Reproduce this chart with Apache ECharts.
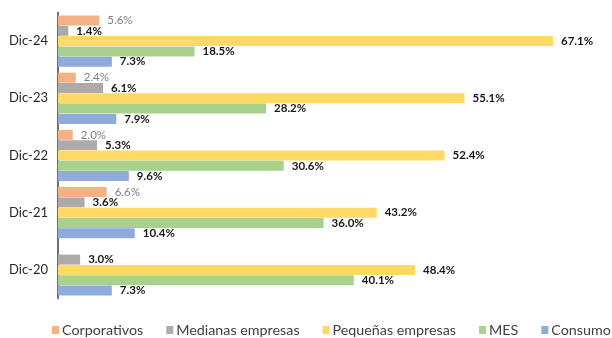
<!DOCTYPE html>
<html>
<head>
<meta charset="utf-8">
<script src="https://cdn.jsdelivr.net/npm/echarts@6/dist/echarts.min.js"></script>
<style>
  html, body { margin: 0; padding: 0; background: #fff; }
  #main { width: 612px; height: 338px; }
</style>
</head>
<body>
<div id="main"></div>
<script>
var categories = ['Dic-20', 'Dic-21', 'Dic-22', 'Dic-23', 'Dic-24'];
var seriesNames = ['Corporativos', 'Medianas empresas', 'Pequeñas empresas', 'MES', 'Consumo'];
var corporativos = [null, 6.6, 2.0, 2.4, 5.6];
var medianas = [3.0, 3.6, 5.3, 6.1, 1.4];
var pequenas = [48.4, 43.2, 52.4, 55.1, 67.1];
var mes = [40.1, 36.0, 30.6, 28.2, 18.5];
var consumo = [7.3, 10.4, 9.6, 7.9, 7.3];
var colors = ['#F4B183', '#AEAAAA', '#FFD966', '#A9D18E', '#8FAADC'];

var values = [corporativos, medianas, pequenas, mes, consumo];

var series = seriesNames.map(function(name, i) {
	return {
		name: name,
		type: 'bar',
		data: values[i],
		barWidth: 10,
		barGap: '3%',
		itemStyle: { color: colors[i] },
		label: {
			show: true,
			position: 'right',
			distance: 8,
			fontFamily: 'Lato',
			fontSize: 11.5,
			fontWeight: i === 0 ? 'normal' : 'bold',
			color: i === 0 ? '#7F7F7F' : '#1a1a1a',
			formatter: function(p) {
				return p.value == null ? '' : p.value.toFixed(1) + '%';
			}
		}
	};
});

var option = {
	animation: false,
	color: colors,
	textStyle: { fontFamily: 'Lato' },
	grid: {
		left: 58,
		top: 12.5,
		width: 516.4,
		height: 286
	},
	legend: {
		data: seriesNames,
		top: 323,
		left: 52,
		width: 800,
		padding: 0,
		itemWidth: 7,
		itemHeight: 8,
		itemGap: 23,
		icon: 'rect',
		textStyle: {
			fontFamily: 'Lato',
			fontSize: 14.3,
			color: '#404040',
			padding: [0, 0, 0, -2]
		}
	},
	xAxis: {
		type: 'value',
		min: 0,
		max: 70,
		show: false
	},
	yAxis: {
		type: 'category',
		data: categories,
		axisTick: { show: false },
		axisLine: { lineStyle: { color: '#404040', width: 1.5 } },
		axisLabel: {
			fontFamily: 'Lato',
			fontSize: 13,
			color: '#262626',
			margin: 10
		}
	},
	series: series
};

var my = echarts.init(document.getElementById('main'));
my.setOption(option);
</script>
</body>
</html>
